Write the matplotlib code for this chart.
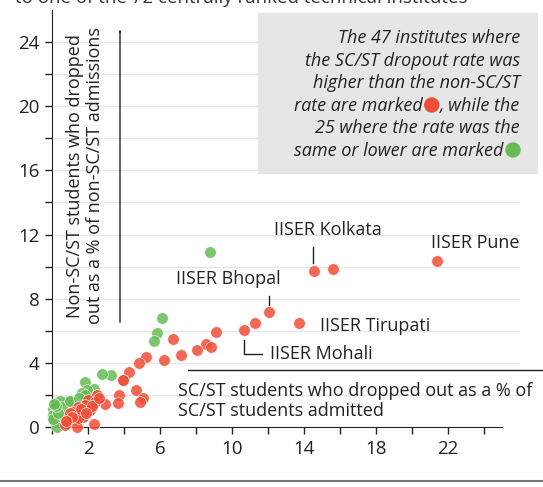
import numpy as np
import matplotlib
matplotlib.use('Agg')
import matplotlib.pyplot as plt

plt.rcParams['font.family'] = ['Open Sans', 'DejaVu Sans']

# 빨강: SC/ST 중도탈락률이 더 높은 곳 (x = SC/ST, y = non-SC/ST)
red_x = [21.4, 14.55, 15.6, 12.07, 11.3, 10.67, 13.7, 9.09, 6.74, 8.54, 8.85, 8.07,
         7.17, 6.23, 5.2, 4.82, 4.3, 3.93, 3.95, 4.65, 3.7, 3.66, 5.07, 4.87, 2.94,
         2.32, 2.48, 2.02, 1.83, 1.46, 1.19, 1.0, 1.46, 1.74, 1.28, 0.91, 1.37, 2.1,
         2.39, 1.46, 0.7, 1.6, 2.2, 1.1, 0.8, 1.9, 2.6]
red_y = [10.33, 9.75, 9.85, 7.19, 6.5, 6.02, 6.48, 5.92, 5.48, 5.2, 5.0, 4.77,
         4.52, 4.19, 4.37, 3.98, 3.45, 2.94, 2.9, 2.33, 2.02, 1.52, 1.79, 1.54, 1.44,
         0.19, 2.0, 1.69, 1.37, 1.27, 0.96, 0.85, 0.75, 0.65, 0.44, 0.23, 0.02, 1.06,
         1.58, 0.54, 0.1, 1.1, 1.3, 0.6, 0.4, 0.9, 1.8]

# 초록: 같거나 낮은 곳
green_x = [8.78, 6.13, 5.85, 5.65, 3.26, 2.8, 1.85, 2.32, 1.95, 1.65, 1.83, 0.91,
           0.44, 0.54, 0.07, 0.07, 0.17, 0.26, 0.63, 1.0, 0.07, 0.35, 1.5, 0.2, 0.12]
green_y = [10.9, 6.8, 5.85, 5.35, 3.22, 3.33, 2.83, 2.4, 2.3, 2.1, 1.98, 1.6,
           1.62, 1.27, 1.1, 0.75, 0.33, 0.02, 0.54, 1.65, 0.5, 0.85, 1.8, 1.3, 1.45]

labels = ['IISER Kolkata', 'IISER Pune', 'IISER Bhopal', 'IISER Tirupati', 'IISER Mohali']
label_x = [12.33, 21.06, 6.89, 14.9, 12.1]
label_y = [12.3, 11.5, 9.25, 6.3, 4.56]

box_lines = ['The 47 institutes where', 'the SC/ST dropout rate was',
             'higher than the non-SC/ST']

red_c = '#f04e37'
green_c = '#66bb55'
W, H = 543, 487
fs = 13

fig = plt.figure(figsize=(W / 100, H / 100), dpi=100)
ax = fig.add_axes([52 / W, 1 - 427 / H, 468 / W, 417 / H])
ax.patch.set_visible(False)
ax.set_xlim(0, 26)
ax.set_ylim(0, 26)

for y in range(2, 26, 2):
    ax.axhline(y, color='#e6e6e6', lw=1, zorder=0)

ax.scatter(green_x, green_y, s=70, color=green_c, alpha=0.85, edgecolor='white',
           linewidth=0.5, zorder=3, clip_on=False)
ax.scatter(red_x, red_y, s=70, color=red_c, alpha=0.85, edgecolor='white',
           linewidth=0.5, zorder=3, clip_on=False)

for sp in ['top', 'right']:
    ax.spines[sp].set_visible(False)
ax.spines['bottom'].set_bounds(0, 25)
ax.spines['left'].set_color('#222222')
ax.spines['bottom'].set_color('#222222')

ax.set_xticks(range(0, 26, 2))
ax.set_xticklabels(['' if v % 4 == 0 else str(v) for v in range(0, 26, 2)])
ax.set_yticks(range(0, 26, 2))
ax.set_yticklabels([str(v) if v % 4 == 0 else '' for v in range(0, 26, 2)])
ax.tick_params(length=5, width=1, color='#222222', labelsize=13.5, labelcolor='#222222', pad=4)

for t, x, y in zip(labels, label_x, label_y):
    ax.text(x, y, t, fontsize=fs, color='#222222', va='center', ha='left')

# 지시선
ax.plot([14.5, 14.5], [11.25, 10.2], color='#222222', lw=1)
ax.plot([12.07, 12.07], [8.19, 7.6], color='#222222', lw=1)
ax.plot([10.67, 10.67, 11.67], [5.44, 4.56, 4.56], color='#222222', lw=1)

# 축 설명
fig.text(85 / W, 1 - 176 / H, 'Non-SC/ST students who dropped\nout as a % of non-SC/ST admissions',
         rotation=90, ha='center', va='center', fontsize=fs, color='#222222', linespacing=1.15)
fig.add_artist(matplotlib.patches.FancyArrowPatch(
    (120 / W, 1 - 325 / H), (120 / W, 1 - 27 / H), transform=fig.transFigure,
    arrowstyle='->,head_length=0.6,head_width=0.35', color='#222222', lw=1))

fig.add_artist(matplotlib.lines.Line2D([188 / W, 1], [1 - 370 / H] * 2, color='#222222', lw=1))
fig.text(178 / W, 1 - 401 / H, 'SC/ST students who dropped out as a % of\nSC/ST students admitted',
         ha='left', va='center', fontsize=fs, color='#222222', linespacing=1.15)

# 상단 잘린 제목
fig.text(15 / W, 1 - 3 / H, 'to one of the 72 centrally ranked technical institutes',
         ha='left', va='baseline', fontsize=13.5, color='#333333')

# 설명 상자
fig.add_artist(matplotlib.patches.Rectangle((258 / W, 1 - 173 / H), 279 / W, 160 / H,
                                            transform=fig.transFigure, color='#e6e6e6', zorder=1))
ys = [38, 61, 83, 106, 128, 151]
for line, y in zip(box_lines, ys[:3]):
    fig.text(520 / W, 1 - y / H, line, ha='right', va='center', fontsize=fs,
             style='italic', color='#222222')
fig.text(520 / W, 1 - ys[4] / H, '25 where the rate was the', ha='right', va='center',
         fontsize=fs, style='italic', color='#222222')

r = fig.canvas.get_renderer()
t4 = fig.text(520 / W, 1 - ys[3] / H, ', while the', ha='right', va='center',
              fontsize=fs, style='italic', color='#222222')
x4 = t4.get_window_extent(r).x0
fig.text((x4 - 17) / W, 1 - ys[3] / H, 'rate are marked', ha='right', va='center',
         fontsize=fs, style='italic', color='#222222')
fig.add_artist(matplotlib.patches.Ellipse(((x4 - 8) / W, 1 - (ys[3] - 1) / H), 14 / W, 14 / H,
                                          transform=fig.transFigure, color=red_c, zorder=2))
fig.text(503 / W, 1 - ys[5] / H, 'same or lower are marked', ha='right', va='center',
         fontsize=fs, style='italic', color='#222222')
fig.add_artist(matplotlib.patches.Ellipse((513 / W, 1 - (ys[5] - 1) / H), 14 / W, 14 / H,
                                          transform=fig.transFigure, color=green_c, zorder=2))

fig.add_artist(matplotlib.lines.Line2D([0, 1], [1 - 481 / H] * 2, color='#777777', lw=1.5))

fig.savefig('out.png', dpi=100)
